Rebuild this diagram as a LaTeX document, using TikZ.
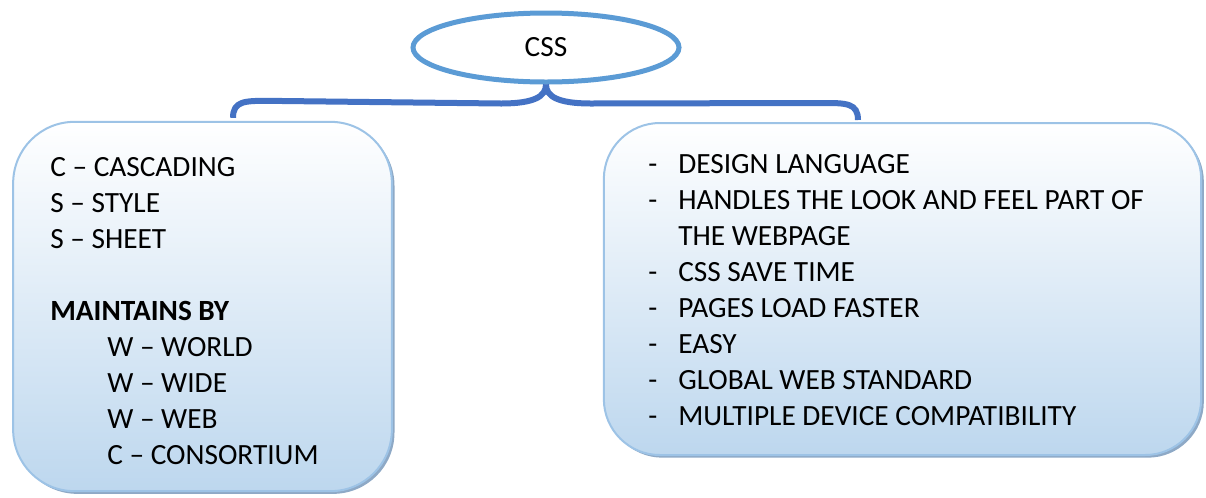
\documentclass[tikz,border=0pt]{standalone}
\usepackage{fontspec}
\setmainfont{Carlito}
\usepackage{tikz}
\usetikzlibrary{shapes.geometric, positioning, calc, shadows}
\definecolor{cssblue}{HTML}{5B9BD5}
\definecolor{braceblue}{HTML}{4472C4}
\definecolor{boxline}{HTML}{9DC3E6}
\definecolor{boxfill}{HTML}{BDD7EE}
\definecolor{boxshadow}{HTML}{8EA9C6}

\newcommand{\dashitem}{\makebox[22.5pt][l]{-}}
\newcommand{\indentitem}{\hspace*{42.75pt}}

\begin{document}
\begin{tikzpicture}[
  x=0.75pt, y=-0.75pt,
  title/.style={
    ellipse, draw=cssblue, line width=3.75pt, fill=white, inner sep=0pt,
    minimum width=199.5pt, minimum height=51.75pt, font=\fontsize{22}{27}\selectfont,
  },
  infobox/.style={
    rectangle, rounded corners=#1, draw=boxline, line width=1.5pt,
    top color=white, bottom color=boxfill, inner sep=0pt,
    drop shadow={shadow xshift=2pt, shadow yshift=-2pt, fill=boxshadow, opacity=1},
  },
  listtext/.style={
    font=\fontsize{22}{27}\selectfont, align=left, inner sep=0pt, anchor=base west,
  },
  brace/.style={draw=braceblue, line width=4.5pt},
]
  \useasboundingbox (0,0) rectangle (1206,497);

  % Title
  \node[title] (css) at (546,47.5) {CSS};

  % Left box: meaning of the letters (anchored at the last baseline)
  \node[infobox=46pt, minimum width=284pt, minimum height=277pt] (lbox) at (202.5,306.5) {};
  \node[listtext] (ltext) at (50,464) {
    C -- CASCADING\\
    S -- STYLE\\
    S -- SHEET\\[27pt]
    \textbf{MAINTAINS BY}\\
    \indentitem W -- WORLD\\
    \indentitem W -- WIDE\\
    \indentitem W -- WEB\\
    \indentitem C -- CONSORTIUM
  };

  % Right box: features
  \node[infobox=42pt, minimum width=448pt, minimum height=249pt] (rbox) at (902.5,289) {};
  \node[listtext] (rtext) at (648,425) {
    \dashitem DESIGN LANGUAGE\\
    \dashitem HANDLES THE LOOK AND FEEL PART OF\\
    \hspace*{22.5pt}THE WEBPAGE\\
    \dashitem CSS SAVE TIME\\
    \dashitem PAGES LOAD FASTER\\
    \dashitem EASY\\
    \dashitem GLOBAL WEB STANDARD\\
    \dashitem MULTIPLE DEVICE COMPATIBILITY
  };

  % Brace from the title to both boxes
  \coordinate (lend) at ($(lbox.north)+(30.5,-3)$);
  \coordinate (rend) at ($(rbox.north)+(-44.5,-2)$);
  \draw[brace] (lend) .. controls ($(lend)+(0,-17)$) and ($(lend)+(12,-17)$) .. ($(lend)+(35,-17)$)
    -- ($(css.south)+(-45,19)$) .. controls ($(css.south)+(-12,19)$) and ($(css.south)+(0,12)$) .. (css.south);
  \draw[brace] (css.south) .. controls ($(css.south)+(0,12)$) and ($(css.south)+(12,19)$) .. ($(css.south)+(45,19)$)
    -- ($(rend)+(-35,-17)$) .. controls ($(rend)+(-12,-17)$) and ($(rend)+(0,-17)$) .. (rend);
\end{tikzpicture}
\end{document}
